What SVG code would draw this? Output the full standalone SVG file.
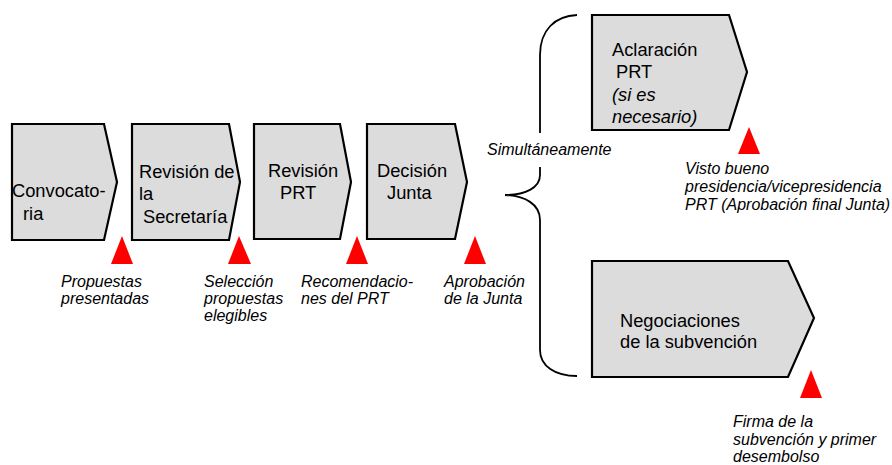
<svg xmlns="http://www.w3.org/2000/svg" width="892" height="465" viewBox="0 0 892 465">
<style>
.box{fill:#dcdcdc;stroke:#000;stroke-width:2.2;stroke-linejoin:miter}
.t{font-family:"Liberation Sans",Arial,sans-serif;font-size:18.3px;fill:#000}
.i{font-family:"Liberation Sans",Arial,sans-serif;font-size:16px;font-style:italic;fill:#000}
.ib{font-family:"Liberation Sans",Arial,sans-serif;font-size:18.3px;font-style:italic;fill:#000}
.ms{fill:#ff0000}
.brace{fill:none;stroke:#000;stroke-width:1.8}
</style>
<rect width="892" height="465" fill="#fff"/>
<g id="convocatoria">
<polygon class="box" points="12,124 104,124 117,182 104,240 12,240"/>
<text class="t" x="12" y="197">Convocato-</text>
<text class="t" x="23" y="220">ria</text>
</g>
<g id="revision-secretaria">
<polygon class="box" points="132,124 229,124 240,182 229,240 132,240"/>
<text class="t" x="139" y="178">Revisión de</text>
<text class="t" x="139" y="200">la</text>
<text class="t" x="143" y="223">Secretaría</text>
</g>
<g id="revision-prt">
<polygon class="box" points="254,124 340,124 351,182 340,239 254,239"/>
<text class="t" x="268" y="177">Revisión</text>
<text class="t" x="280" y="199">PRT</text>
</g>
<g id="decision-junta">
<polygon class="box" points="367,124 455,124 467,182 455,239 367,239"/>
<text class="t" x="377" y="177">Decisión</text>
<text class="t" x="387" y="199">Junta</text>
</g>
<g id="aclaracion-prt">
<polygon class="box" points="592,15 729,15 747,72 729,130 592,130"/>
<text class="t" x="612" y="56">Aclaración</text>
<text class="t" x="616" y="78">PRT</text>
<text class="ib" x="612" y="101">(si es</text>
<text class="ib" x="612" y="123">necesario)</text>
</g>
<g id="negociaciones">
<polygon class="box" points="592,261 788,261 814,318 788,377 592,377"/>
<text class="t" x="620" y="327">Negociaciones</text>
<text class="t" x="620" y="348">de la subvención</text>
</g>
<g id="connectors">
<path class="brace" d="M577,15 C555,16 540,30 540,55 L540,133"/>
<path class="brace" d="M540,167 L540,175 C540,188 525,195 505,195 C525,196 540,204 540,220 L540,350 C540,366 555,376 577,376"/>
</g>
<g id="milestones">
<polygon class="ms" points="122,236 111,264 133,264"/>
<polygon class="ms" points="239,236 228,264 251,264"/>
<polygon class="ms" points="357,236 346,264 368,264"/>
<polygon class="ms" points="475,236 464,264 486,264"/>
<polygon class="ms" points="749,127 738,154 760,154"/>
<polygon class="ms" points="811,370 800,398 822,398"/>
</g>
<g id="labels">
<text class="i" x="61" y="287">Propuestas</text>
<text class="i" x="61" y="304">presentadas</text>
<text class="i" x="204" y="287">Selección</text>
<text class="i" x="204" y="304">propuestas</text>
<text class="i" x="204" y="321">elegibles</text>
<text class="i" x="301" y="287">Recomendacio-</text>
<text class="i" x="301" y="304">nes del PRT</text>
<text class="i" x="444" y="287">Aprobación</text>
<text class="i" x="444" y="304">de la Junta</text>
<text class="i" x="487" y="155">Simultáneamente</text>
<text class="i" x="685" y="174">Visto bueno</text>
<text class="i" x="685" y="192">presidencia/vicepresidencia</text>
<text class="i" x="685" y="210">PRT (Aprobación final Junta)</text>
<text class="i" x="733" y="427">Firma de la</text>
<text class="i" x="733" y="445">subvención y primer</text>
<text class="i" x="733" y="462">desembolso</text>
</g>
</svg>
